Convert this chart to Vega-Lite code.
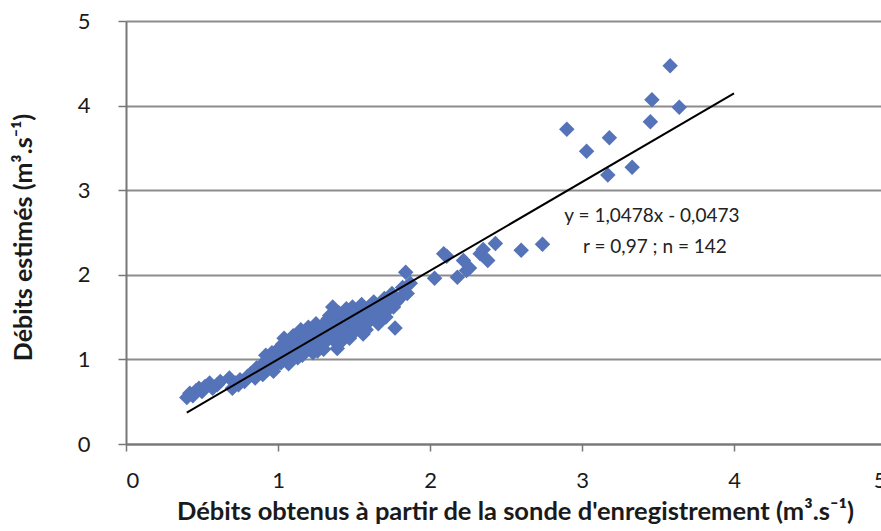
{
  "$schema": "https://vega.github.io/schema/vega-lite/v6.json",
  "autosize": {"type": "none"},
  "width": 760,
  "height": 423,
  "padding": {"left": 126, "top": 21, "right": 0, "bottom": 87},
  "background": "white",
  "config": {
    "view": {"stroke": null},
    "font": "Lato",
    "axis": {"labelFont": "Lato", "titleFont": "Lato", "labelColor": "#1a1a1a", "titleColor": "#1a1a1a"}
  },
  "datasets": {
    "pts": [
      {"x":0.40,"y":0.55},{"x":0.42,"y":0.60},{"x":0.44,"y":0.57},{"x":0.46,"y":0.63},{"x":0.48,"y":0.66},
      {"x":0.50,"y":0.62},{"x":0.52,"y":0.68},{"x":0.55,"y":0.72},{"x":0.57,"y":0.66},{"x":0.60,"y":0.70},
      {"x":0.62,"y":0.74},{"x":0.68,"y":0.78},{"x":0.70,"y":0.66},{"x":0.72,"y":0.72},{"x":0.74,"y":0.70},
      {"x":0.75,"y":0.76},{"x":0.78,"y":0.74},{"x":0.80,"y":0.80},{"x":0.82,"y":0.83},{"x":0.85,"y":0.78},
      {"x":0.86,"y":0.90},{"x":0.88,"y":0.86},{"x":0.90,"y":0.95},{"x":0.90,"y":0.82},{"x":0.92,"y":1.05},
      {"x":0.93,"y":0.88},{"x":0.94,"y":1.00},{"x":0.95,"y":0.98},{"x":0.96,"y":1.08},{"x":0.97,"y":0.86},
      {"x":0.98,"y":0.92},{"x":1.00,"y":1.02},{"x":1.00,"y":1.12},{"x":1.02,"y":0.96},{"x":1.03,"y":1.18},
      {"x":1.04,"y":1.25},{"x":1.05,"y":1.08},{"x":1.06,"y":1.00},{"x":1.07,"y":0.95},{"x":1.08,"y":1.15},
      {"x":1.08,"y":1.22},{"x":1.10,"y":1.05},{"x":1.10,"y":1.28},{"x":1.11,"y":1.18},{"x":1.12,"y":1.12},
      {"x":1.13,"y":1.02},{"x":1.14,"y":1.30},{"x":1.15,"y":1.20},{"x":1.15,"y":1.35},{"x":1.16,"y":1.05},
      {"x":1.17,"y":1.10},{"x":1.18,"y":1.25},{"x":1.19,"y":1.32},{"x":1.20,"y":1.15},{"x":1.20,"y":1.38},
      {"x":1.21,"y":1.22},{"x":1.22,"y":1.30},{"x":1.23,"y":1.08},{"x":1.24,"y":1.35},{"x":1.25,"y":1.22},
      {"x":1.25,"y":1.42},{"x":1.26,"y":1.10},{"x":1.27,"y":1.18},{"x":1.28,"y":1.32},{"x":1.29,"y":1.40},
      {"x":1.30,"y":1.25},{"x":1.30,"y":1.12},{"x":1.31,"y":1.20},{"x":1.32,"y":1.38},{"x":1.33,"y":1.48},
      {"x":1.34,"y":1.52},{"x":1.35,"y":1.30},{"x":1.36,"y":1.62},{"x":1.36,"y":1.36},{"x":1.37,"y":1.22},
      {"x":1.38,"y":1.42},{"x":1.39,"y":1.13},{"x":1.40,"y":1.35},{"x":1.40,"y":1.55},{"x":1.41,"y":1.20},
      {"x":1.42,"y":1.28},{"x":1.43,"y":1.45},{"x":1.44,"y":1.52},{"x":1.45,"y":1.38},{"x":1.45,"y":1.60},
      {"x":1.46,"y":1.45},{"x":1.47,"y":1.25},{"x":1.48,"y":1.50},{"x":1.49,"y":1.62},{"x":1.50,"y":1.42},
      {"x":1.50,"y":1.32},{"x":1.51,"y":1.38},{"x":1.52,"y":1.58},{"x":1.53,"y":1.48},{"x":1.54,"y":1.55},
      {"x":1.55,"y":1.40},{"x":1.55,"y":1.65},{"x":1.56,"y":1.30},{"x":1.57,"y":1.52},{"x":1.58,"y":1.35},
      {"x":1.59,"y":1.58},{"x":1.60,"y":1.45},{"x":1.60,"y":1.62},{"x":1.62,"y":1.55},{"x":1.63,"y":1.68},
      {"x":1.64,"y":1.62},{"x":1.65,"y":1.50},{"x":1.66,"y":1.42},{"x":1.67,"y":1.55},{"x":1.68,"y":1.60},
      {"x":1.70,"y":1.72},{"x":1.71,"y":1.50},{"x":1.72,"y":1.58},{"x":1.73,"y":1.65},{"x":1.75,"y":1.78},
      {"x":1.76,"y":1.62},{"x":1.77,"y":1.37},{"x":1.78,"y":1.68},{"x":1.80,"y":1.72},{"x":1.82,"y":1.85},
      {"x":1.84,"y":2.03},{"x":1.85,"y":1.78},{"x":1.87,"y":1.90},
      {"x":2.03,"y":1.96},{"x":2.09,"y":2.25},{"x":2.11,"y":2.22},{"x":2.18,"y":1.97},{"x":2.22,"y":2.17},
      {"x":2.24,"y":2.05},{"x":2.26,"y":2.08},{"x":2.33,"y":2.25},{"x":2.35,"y":2.30},{"x":2.38,"y":2.17},
      {"x":2.43,"y":2.37},{"x":2.60,"y":2.29},{"x":2.74,"y":2.36},
      {"x":2.90,"y":3.72},{"x":3.03,"y":3.46},{"x":3.17,"y":3.18},{"x":3.18,"y":3.62},{"x":3.33,"y":3.27},
      {"x":3.45,"y":3.81},{"x":3.46,"y":4.07},{"x":3.58,"y":4.47},{"x":3.64,"y":3.98}
    ],
    "fit": [{"x":0.4,"y":0.3718},{"x":4.0,"y":4.1439}],
    "notes": [
      {"x":3.46,"y":2.69,"t":"y = 1,0478x - 0,0473"},
      {"x":3.48,"y":2.33,"t":"r = 0,97 ; n = 142"}
    ]
  },
  "layer": [
    {
      "data": {"name": "pts"},
      "mark": {"type": "point", "shape": "diamond", "filled": true, "opacity": 1, "color": "#5573b8", "size": 240},
      "encoding": {
        "x": {
          "field": "x", "type": "quantitative",
          "scale": {"domain": [0, 5], "nice": false, "zero": true},
          "axis": {
            "title": "Débits obtenus à partir de la sonde d'enregistrement (m³.s⁻¹)",
            "values": [0, 1, 2, 3, 4, 5],
            "format": "d",
            "grid": false,
            "domainColor": "#777", "domainWidth": 2,
            "tickColor": "#777", "tickWidth": 1.5, "tickSize": 7,
            "labelFontSize": 22, "labelPadding": 19,
            "titleFontSize": 25.5, "titleFontWeight": "bold",
            "titleY": 67, "titleX": 389, "titleBaseline": "middle", "titleAnchor": "middle"
          }
        },
        "y": {
          "field": "y", "type": "quantitative",
          "scale": {"domain": [0, 5], "nice": false},
          "axis": {
            "title": "Débits estimés (m³.s⁻¹)",
            "values": [0, 1, 2, 3, 4, 5],
            "format": "d",
            "grid": true, "gridColor": "#8c8c8c", "gridWidth": 2,
            "domainColor": "#777", "domainWidth": 2,
            "tickColor": "#777", "tickWidth": 1.5, "tickSize": 8,
            "labelFontSize": 22, "labelPadding": 28,
            "titleFontSize": 25, "titleFontWeight": "bold",
            "titleX": -103, "titleY": 216, "titleBaseline": "middle", "titleAnchor": "middle", "titleAngle": -90
          }
        }
      }
    },
    {
      "data": {"name": "fit"},
      "mark": {"type": "line", "color": "#000", "strokeWidth": 2},
      "encoding": {
        "x": {"field": "x", "type": "quantitative"},
        "y": {"field": "y", "type": "quantitative"}
      }
    },
    {
      "data": {"name": "notes"},
      "mark": {"type": "text", "fontSize": 19, "color": "#222", "align": "center", "baseline": "middle", "font": "Lato"},
      "encoding": {
        "x": {"field": "x", "type": "quantitative"},
        "y": {"field": "y", "type": "quantitative"},
        "text": {"field": "t"}
      }
    }
  ]
}
